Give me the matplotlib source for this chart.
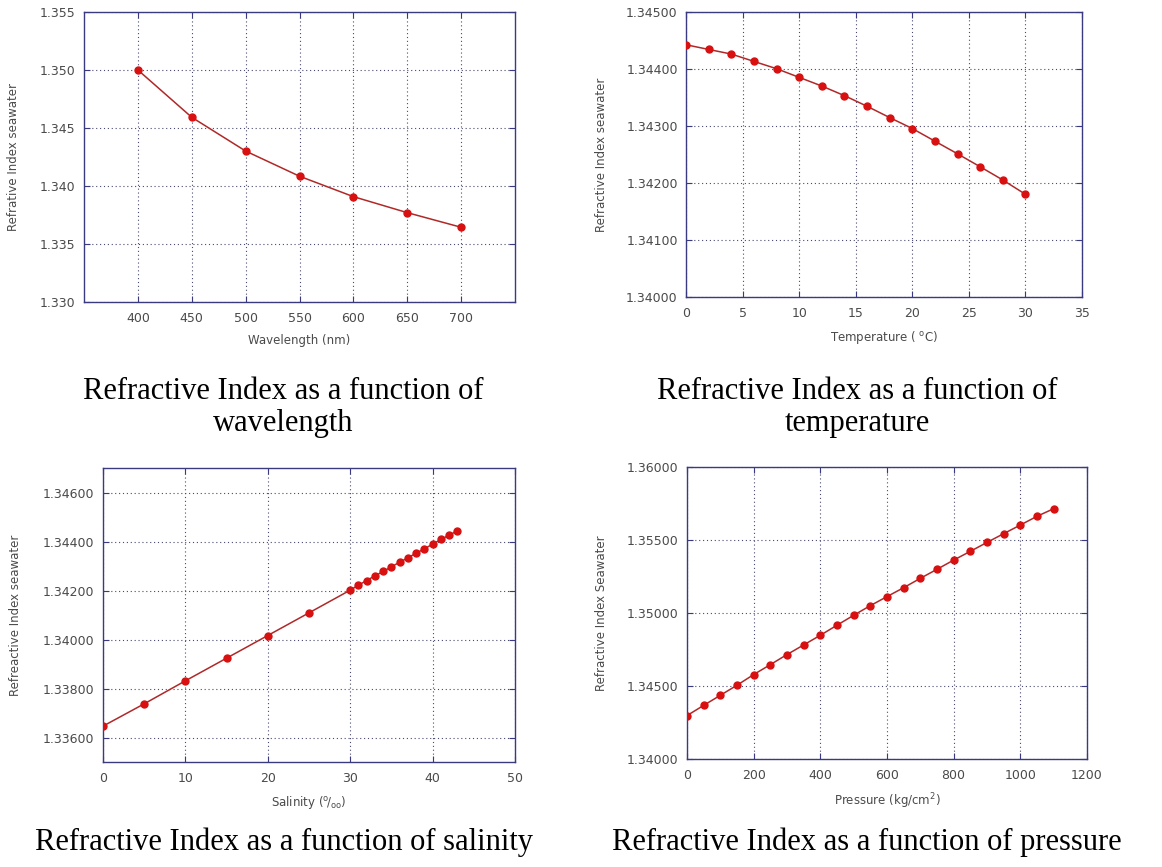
import numpy as np
import matplotlib.pyplot as plt
from matplotlib.ticker import FormatStrFormatter

# refractive index of seawater vs. wavelength, temperature, salinity, pressure
wavelength = [400, 450, 500, 550, 600, 650, 700]
n_wavelength = [1.35000, 1.34592, 1.34301, 1.34084, 1.33908, 1.33770, 1.33644]

temperature = [0, 2, 4, 6, 8, 10, 12, 14, 16, 18, 20, 22, 24, 26, 28, 30]
n_temperature = [1.344426, 1.344344, 1.344263, 1.344134, 1.344006, 1.343854,
                 1.343702, 1.343533, 1.343347, 1.343148, 1.342956, 1.342734,
                 1.342512, 1.342285, 1.342053, 1.341802]

salinity = [0, 5, 10, 15, 20, 25, 30, 31, 32, 33, 34, 35, 36, 37, 38, 39,
            40, 41, 42, 43]
n_salinity = [1.336463, 1.337374, 1.338313, 1.339238, 1.340163, 1.341088,
              1.342014, 1.342218, 1.342408, 1.342599, 1.342776, 1.342966,
              1.343156, 1.343333, 1.343524, 1.343701, 1.343891, 1.344082,
              1.344259, 1.344435]

pressure = [0, 50, 100, 150, 200, 250, 300, 350, 400, 450, 500, 550, 600,
            650, 700, 750, 800, 850, 900, 950, 1000, 1050, 1100]
n_pressure = [1.34297, 1.34367, 1.34436, 1.34505, 1.34578, 1.34646, 1.34715,
              1.34781, 1.34847, 1.34916, 1.34984, 1.35050, 1.35112, 1.35173,
              1.35237, 1.35299, 1.35362, 1.35422, 1.35483, 1.35543, 1.35602,
              1.35662, 1.35714]

spine_col = '#3a3a80'
grid_col = '#4a4a70'
text_col = '#4a4a4a'
line_col = '#b02828'
dot_col = '#d81010'

plt.rcParams['font.family'] = ['DejaVu Sans']

fig = plt.figure(figsize=(11.62, 8.67), dpi=100)


def panel(rect, x, y, xlim, xticks, ylim, yticks, fmt, xlabel, ylabel, ylab_x):
    ax = fig.add_axes(rect)
    ax.plot(x, y, '-', color=line_col, lw=1.1, zorder=3)
    ax.plot(x, y, 'o', color=dot_col, ms=5, zorder=4)
    ax.set_xlim(*xlim)
    ax.set_ylim(*ylim)
    ax.set_xticks(xticks)
    ax.set_yticks(yticks)
    ax.yaxis.set_major_formatter(FormatStrFormatter(fmt))
    ax.grid(True, linestyle=(0, (1, 2.5)), color=grid_col, lw=0.8)
    for s in ax.spines.values():
        s.set_color(spine_col)
        s.set_linewidth(1.0)
    ax.tick_params(direction='in', length=4, color=spine_col, top=True,
                   right=True, labelsize=9, labelcolor=text_col)
    ax.tick_params(axis='x', pad=7)
    ax.tick_params(axis='y', pad=6)
    ax.set_xlabel(xlabel, fontsize=8.5, color=text_col, labelpad=7)
    ax.set_ylabel(ylabel, fontsize=8.5, color=text_col)
    ax.yaxis.set_label_coords(ylab_x, 0.5)
    return ax


panel([0.0723, 0.6517, 0.3709, 0.3345], wavelength, n_wavelength,
      (350, 750), np.arange(400, 701, 50), (1.330, 1.355),
      np.arange(1.330, 1.3551, 0.005), '%.3f',
      'Wavelength (nm)', 'Refrative Index seawater', -0.148)

panel([0.5904, 0.6574, 0.3408, 0.3287], temperature, n_temperature,
      (0, 35), np.arange(0, 36, 5), (1.340, 1.345),
      np.arange(1.340, 1.34501, 0.001), '%.5f',
      r'Temperature ( $^{\mathregular{o}}$C)', 'Refractive Index seawater', -0.197)

panel([0.0886, 0.1211, 0.3546, 0.3391], salinity, n_salinity,
      (0, 50), np.arange(0, 51, 10), (1.335, 1.347),
      np.arange(1.336, 1.3461, 0.002), '%.5f',
      r'Salinity ($^{\mathregular{o}}\!/_{\mathregular{oo}}$)',
      'Refreactive Index seawater', -0.197)

panel([0.5912, 0.1246, 0.3442, 0.3368], pressure, n_pressure,
      (0, 1200), np.arange(0, 1201, 200), (1.340, 1.360),
      np.arange(1.340, 1.3601, 0.005), '%.5f',
      r'Pressure (kg/cm$^{\mathregular{2}}$)', 'Refractive Index Seawater', -0.1975)

cap = dict(ha='center', va='baseline', fontsize=22, family='Liberation Serif',
           color='black')
fig.text(0.244, 1 - 399 / 867, 'Refractive Index as a function of', **cap)
fig.text(0.244, 1 - 431 / 867, 'wavelength', **cap)
fig.text(0.738, 1 - 399 / 867, 'Refractive Index as a function of', **cap)
fig.text(0.738, 1 - 431 / 867, 'temperature', **cap)
fig.text(0.244, 1 - 850 / 867, 'Refractive Index as a function of salinity', **cap)
fig.text(0.746, 1 - 850 / 867, 'Refractive Index as a function of pressure', **cap)

fig.savefig('out.png', dpi=100, facecolor='white')
